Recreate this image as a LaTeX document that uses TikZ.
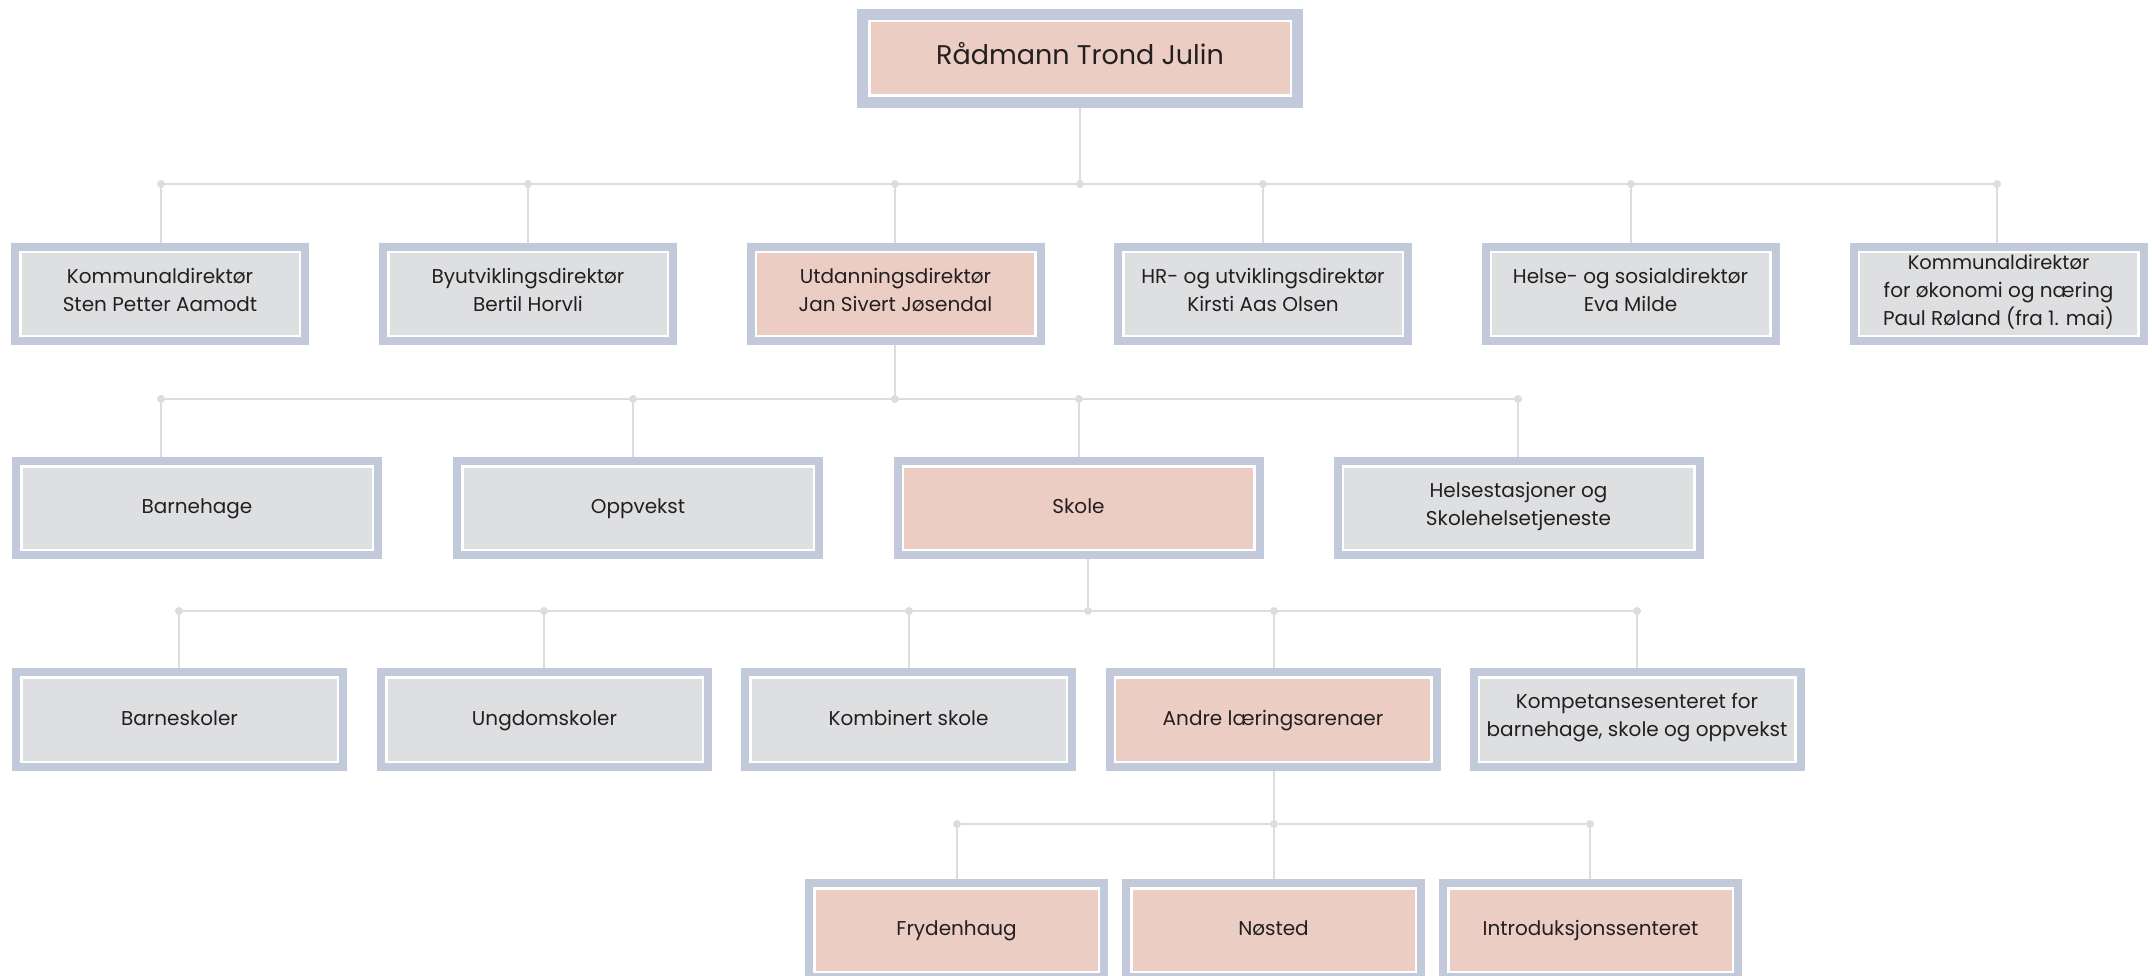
\documentclass[tikz,border=0pt]{standalone}
\usepackage{fontspec}
\setmainfont{Poppins}
\definecolor{bordercol}{HTML}{C1C9DB}
\definecolor{pinkfill}{HTML}{EBCDC4}
\definecolor{grayfill}{HTML}{DEDFE1}
\definecolor{linecol}{HTML}{DDDDDF}
\definecolor{txtcol}{HTML}{231F20}
\tikzset{
  outerbox/.style={fill=bordercol, inner sep=0pt, outer sep=0pt},
  innerbox/.style={draw=white, line width=2.5pt, inner sep=0pt, outer sep=0pt,
    text=txtcol, align=center, font=\fontsize{20}{28}\selectfont,
    execute at begin node=\strut, execute at end node=\strut},
  conn/.style={draw=linecol, line width=2.6pt},
  dotmark/.style={fill=linecol},
}
\newcommand{\obox}[7]{%
  \node[outerbox, minimum width=#4, minimum height=#5] (#1) at (#2,#3) {};
  \node[innerbox, fill=#6, minimum width=#4-18.5, minimum height=#5-18.5] (#1-in) at (#1.center) {#7};
}
\begin{document}
\begin{tikzpicture}[x=1pt,y=-1pt]
\useasboundingbox (0,0) rectangle (2152,976);
\clip (0,0) rectangle (2152,976);
% top
\node[outerbox, minimum width=446, minimum height=99] (top) at (1080,58.5) {};
\node[innerbox, fill=pinkfill, minimum width=446-24.5, minimum height=99-24.5,
  font=\fontsize{27}{32}\selectfont] (top-in) at (top.center) {Rådmann Trond Julin};
% row 1
\obox{k1}{160}{294}{298}{102}{grayfill}{Kommunaldirektør\\Sten Petter Aamodt}
\obox{by}{528}{294}{298}{102}{grayfill}{Byutviklingsdirektør\\Bertil Horvli}
\obox{ut}{895.5}{294}{298}{102}{pinkfill}{Utdanningsdirektør\\Jan Sivert Jøsendal}
\obox{hr}{1263}{294}{298}{102}{grayfill}{HR- og utviklingsdirektør\\Kirsti Aas Olsen}
\obox{hs}{1630.5}{294}{298}{102}{grayfill}{Helse- og sosialdirektør\\Eva Milde}
\obox{k2}{1998.5}{294}{298}{102}{grayfill}{\fontsize{19.5}{27}\selectfont Kommunaldirektør\\for økonomi og næring\\Paul Røland (fra 1. mai)}
% row 2
\obox{bh}{197}{508}{370}{102}{grayfill}{Barnehage}
\obox{op}{638}{508}{370}{102}{grayfill}{Oppvekst}
\obox{sk}{1078.5}{508}{370}{102}{pinkfill}{Skole}
\obox{he}{1518.5}{508}{370}{102}{grayfill}{Helsestasjoner og\\Skolehelsetjeneste}
% row 3
\obox{bs}{179.5}{719.5}{335}{103}{grayfill}{Barneskoler}
\obox{ud}{544.5}{719.5}{335}{103}{grayfill}{Ungdomskoler}
\obox{ko}{908.5}{719.5}{335}{103}{grayfill}{Kombinert skole}
\obox{an}{1273}{719.5}{335}{103}{pinkfill}{Andre læringsarenaer}
\obox{kp}{1637}{719.5}{335}{103}{grayfill}{Kompetansesenteret for\\barnehage, skole og oppvekst}
% row 4
\obox{fr}{956.5}{930}{303}{102}{pinkfill}{Frydenhaug}
\obox{no}{1273.5}{930}{303}{102}{pinkfill}{Nøsted}
\obox{in}{1590.5}{930}{303}{102}{pinkfill}{Introduksjonssenteret}
% junction coordinates
\coordinate (a1) at (161,184);  \coordinate (a2) at (528,184);
\coordinate (a3) at (895,184);  \coordinate (a0) at (1080,184);
\coordinate (a4) at (1263,184); \coordinate (a5) at (1631,184);
\coordinate (a6) at (1997,184);
\coordinate (b1) at (161,399);  \coordinate (b2) at (633,399);
\coordinate (b0) at (895,399);  \coordinate (b3) at (1079,399);
\coordinate (b4) at (1518,399);
\coordinate (c1) at (179,611);  \coordinate (c2) at (544,611);
\coordinate (c3) at (909,611);  \coordinate (c0) at (1088,611);
\coordinate (c4) at (1274,611); \coordinate (c5) at (1637,611);
\coordinate (e1) at (957,824);  \coordinate (e0) at (1274,824);
\coordinate (e2) at (1590,824);
% connectors
\draw[conn] (top.south) -- (a0);
\draw[conn] (a1) -- (a6);
\foreach \p/\n in {a1/k1,a2/by,a3/ut,a4/hr,a5/hs,a6/k2}
  \draw[conn] (\p) -- (\p |- \n.north);
\draw[conn] (b0 |- ut.south) -- (b0);
\draw[conn] (b1) -- (b4);
\foreach \p/\n in {b1/bh,b2/op,b3/sk,b4/he}
  \draw[conn] (\p) -- (\p |- \n.north);
\draw[conn] (c0 |- sk.south) -- (c0);
\draw[conn] (c1) -- (c5);
\foreach \p/\n in {c1/bs,c2/ud,c3/ko,c4/an,c5/kp}
  \draw[conn] (\p) -- (\p |- \n.north);
\draw[conn] (e0 |- an.south) -- (e0);
\draw[conn] (e1) -- (e2);
\foreach \p/\n in {e1/fr,e0/no,e2/in}
  \draw[conn] (\p) -- (\p |- \n.north);
\foreach \p in {a0,a1,a2,a3,a4,a5,a6,b0,b1,b2,b3,b4,c0,c1,c2,c3,c4,c5,e0,e1,e2}
  \fill[dotmark] (\p) circle (4);
\end{tikzpicture}
\end{document}
